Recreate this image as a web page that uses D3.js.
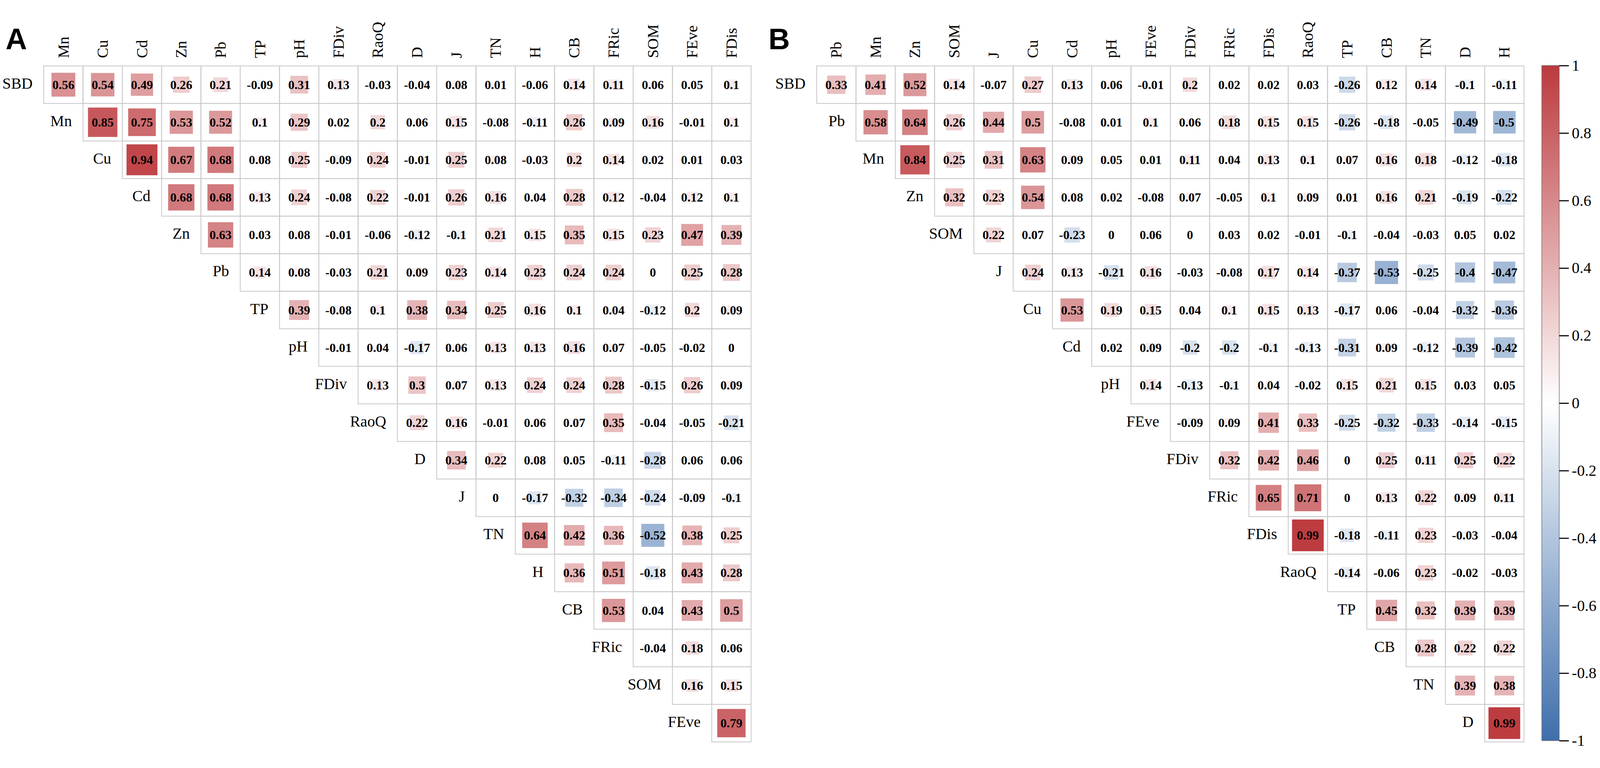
<!DOCTYPE html>
<html>
<head>
<meta charset="utf-8">
<script src="https://cdn.jsdelivr.net/npm/d3@7/dist/d3.min.js"></script>
<style>
  html, body { margin: 0; padding: 0; width: 100%; height: 100%; overflow: hidden; background: #fff; }
  #chart { width: 100vw; height: 100vh; }
  svg { display: block; }
</style>
</head>
<body>
<div id="chart"></div>
<script>
// ---- data: panel A ----
var rowsA = ["SBD", "Mn", "Cu", "Cd", "Zn", "Pb", "TP", "pH", "FDiv", "RaoQ", "D", "J", "TN", "H", "CB", "FRic", "SOM", "FEve"];
var colsA = ["Mn", "Cu", "Cd", "Zn", "Pb", "TP", "pH", "FDiv", "RaoQ", "D", "J", "TN", "H", "CB", "FRic", "SOM", "FEve", "FDis"];
// row i holds the values for columns i .. end
var valuesA = [
  [0.56, 0.54, 0.49, 0.26, 0.21, -0.09, 0.31, 0.13, -0.03, -0.04, 0.08, 0.01, -0.06, 0.14, 0.11, 0.06, 0.05, 0.1],
  [0.85, 0.75, 0.53, 0.52, 0.1, 0.29, 0.02, 0.2, 0.06, 0.15, -0.08, -0.11, 0.26, 0.09, 0.16, -0.01, 0.1],
  [0.94, 0.67, 0.68, 0.08, 0.25, -0.09, 0.24, -0.01, 0.25, 0.08, -0.03, 0.2, 0.14, 0.02, 0.01, 0.03],
  [0.68, 0.68, 0.13, 0.24, -0.08, 0.22, -0.01, 0.26, 0.16, 0.04, 0.28, 0.12, -0.04, 0.12, 0.1],
  [0.63, 0.03, 0.08, -0.01, -0.06, -0.12, -0.1, 0.21, 0.15, 0.35, 0.15, 0.23, 0.47, 0.39],
  [0.14, 0.08, -0.03, 0.21, 0.09, 0.23, 0.14, 0.23, 0.24, 0.24, 0, 0.25, 0.28],
  [0.39, -0.08, 0.1, 0.38, 0.34, 0.25, 0.16, 0.1, 0.04, -0.12, 0.2, 0.09],
  [-0.01, 0.04, -0.17, 0.06, 0.13, 0.13, 0.16, 0.07, -0.05, -0.02, 0],
  [0.13, 0.3, 0.07, 0.13, 0.24, 0.24, 0.28, -0.15, 0.26, 0.09],
  [0.22, 0.16, -0.01, 0.06, 0.07, 0.35, -0.04, -0.05, -0.21],
  [0.34, 0.22, 0.08, 0.05, -0.11, -0.28, 0.06, 0.06],
  [0, -0.17, -0.32, -0.34, -0.24, -0.09, -0.1],
  [0.64, 0.42, 0.36, -0.52, 0.38, 0.25],
  [0.36, 0.51, -0.18, 0.43, 0.28],
  [0.53, 0.04, 0.43, 0.5],
  [-0.04, 0.18, 0.06],
  [0.16, 0.15],
  [0.79]
];

// ---- data: panel B ----
var rowsB = ["SBD", "Pb", "Mn", "Zn", "SOM", "J", "Cu", "Cd", "pH", "FEve", "FDiv", "FRic", "FDis", "RaoQ", "TP", "CB", "TN", "D"];
var colsB = ["Pb", "Mn", "Zn", "SOM", "J", "Cu", "Cd", "pH", "FEve", "FDiv", "FRic", "FDis", "RaoQ", "TP", "CB", "TN", "D", "H"];
var valuesB = [
  [0.33, 0.41, 0.52, 0.14, -0.07, 0.27, 0.13, 0.06, -0.01, 0.2, 0.02, 0.02, 0.03, -0.26, 0.12, 0.14, -0.1, -0.11],
  [0.58, 0.64, 0.26, 0.44, 0.5, -0.08, 0.01, 0.1, 0.06, 0.18, 0.15, 0.15, -0.26, -0.18, -0.05, -0.49, -0.5],
  [0.84, 0.25, 0.31, 0.63, 0.09, 0.05, 0.01, 0.11, 0.04, 0.13, 0.1, 0.07, 0.16, 0.18, -0.12, -0.18],
  [0.32, 0.23, 0.54, 0.08, 0.02, -0.08, 0.07, -0.05, 0.1, 0.09, 0.01, 0.16, 0.21, -0.19, -0.22],
  [0.22, 0.07, -0.23, 0, 0.06, 0, 0.03, 0.02, -0.01, -0.1, -0.04, -0.03, 0.05, 0.02],
  [0.24, 0.13, -0.21, 0.16, -0.03, -0.08, 0.17, 0.14, -0.37, -0.53, -0.25, -0.4, -0.47],
  [0.53, 0.19, 0.15, 0.04, 0.1, 0.15, 0.13, -0.17, 0.06, -0.04, -0.32, -0.36],
  [0.02, 0.09, -0.2, -0.2, -0.1, -0.13, -0.31, 0.09, -0.12, -0.39, -0.42],
  [0.14, -0.13, -0.1, 0.04, -0.02, 0.15, 0.21, 0.15, 0.03, 0.05],
  [-0.09, 0.09, 0.41, 0.33, -0.25, -0.32, -0.33, -0.14, -0.15],
  [0.32, 0.42, 0.46, 0, 0.25, 0.11, 0.25, 0.22],
  [0.65, 0.71, 0, 0.13, 0.22, 0.09, 0.11],
  [0.99, -0.18, -0.11, 0.23, -0.03, -0.04],
  [-0.14, -0.06, 0.23, -0.02, -0.03],
  [0.45, 0.32, 0.39, 0.39],
  [0.28, 0.22, 0.22],
  [0.39, 0.38],
  [0.99]
];

var legendTicks = [1, 0.8, 0.6, 0.4, 0.2, 0, -0.2, -0.4, -0.6, -0.8, -1];

// ---- layout ----
var W = 4316, H = 1966;
var gridTop = 125, cellW = 106, cellH = 101.3;
var serif = "'Liberation Serif', 'Times New Roman', serif";

// fixed drawing coordinates, scaled to whatever the viewport is
var svg = d3.select("#chart")
  .append("svg")
  .attr("viewBox", "0 0 " + W + " " + H)
  .attr("preserveAspectRatio", "xMidYMid meet")
  .attr("width", "100%")
  .attr("height", "100%")
  .style("background", "#fff");

// shared colour and size scales
var color = d3.scaleLinear()
  .domain([-1, 0, 1])
  .range(["#3e6eac", "#ffffff", "#bc3a3e"]);

var side = d3.scaleSqrt()
  .domain([0, 1])
  .range([0, 86]);

function drawPanel(rows, cols, values, left, letter, letterX) {
  var x = d3.scaleBand().domain(cols).range([left, left + cols.length * cellW]);
  var y = d3.scaleBand().domain(rows).range([gridTop, gridTop + rows.length * cellH]);

  var cells = [];
  values.forEach(function (row, i) {
    row.forEach(function (v, k) {
      cells.push({ row: rows[i], col: cols[i + k], v: v });
    });
  });

  var g = svg.append("g");

  // grid
  g.append("g").selectAll("rect")
    .data(cells)
    .enter()
    .append("rect")
    .attr("x", function (d) { return x(d.col); })
    .attr("y", function (d) { return y(d.row); })
    .attr("width", x.bandwidth())
    .attr("height", y.bandwidth())
    .attr("fill", "none")
    .attr("stroke", "#c9c9c9")
    .attr("stroke-width", 2.2);

  // squares
  g.append("g").selectAll("rect")
    .data(cells)
    .enter()
    .append("rect")
    .attr("x", function (d) { return x(d.col) + x.bandwidth() / 2 - side(Math.abs(d.v)) / 2; })
    .attr("y", function (d) { return y(d.row) + y.bandwidth() / 2 - side(Math.abs(d.v)) / 2; })
    .attr("width", function (d) { return side(Math.abs(d.v)); })
    .attr("height", function (d) { return side(Math.abs(d.v)); })
    .attr("fill", function (d) { return color(d.v); });

  // coefficients
  g.append("g").selectAll("text")
    .data(cells)
    .enter()
    .append("text")
    .attr("x", function (d) { return x(d.col) + x.bandwidth() / 2; })
    .attr("y", function (d) { return y(d.row) + y.bandwidth() / 2 + 11.5; })
    .attr("text-anchor", "middle")
    .style("font-family", serif)
    .style("font-weight", "bold")
    .style("font-size", "34px")
    .attr("fill", "#000")
    .text(function (d) { return String(d.v); });

  // row labels, just left of each row's first cell
  g.append("g").selectAll("text")
    .data(rows)
    .enter()
    .append("text")
    .attr("x", function (d, i) { return x(cols[i]) - 30; })
    .attr("y", function (d) { return y(d) + y.bandwidth() / 2 + 10.5; })
    .attr("text-anchor", "end")
    .style("font-family", serif)
    .style("font-size", "42px")
    .attr("fill", "#000")
    .text(function (d) { return d; });

  // column labels, rotated
  g.append("g").selectAll("text")
    .data(cols)
    .enter()
    .append("text")
    .attr("transform", function (d) {
      return "translate(" + (x(d) + x.bandwidth() / 2 + 14) + "," + (gridTop - 21) + ") rotate(-90)";
    })
    .attr("text-anchor", "start")
    .style("font-family", serif)
    .style("font-size", "42px")
    .attr("fill", "#000")
    .text(function (d) { return d; });

  // panel letter
  svg.append("text")
    .attr("x", letterX)
    .attr("y", 80)
    .style("font-family", "'Liberation Sans', Arial, sans-serif")
    .style("font-weight", "bold")
    .style("font-size", "80px")
    .attr("fill", "#000")
    .text(letter);
}

drawPanel(rowsA, colsA, valuesA, 118, "A", 15);
drawPanel(rowsB, colsB, valuesB, 2203, "B", 2073);

// ---- colour bar ----
var barX = 4159, barW = 47, barTop = 124, barBottom = 1945;
var barScale = d3.scaleLinear().domain([-1, 1]).range([barBottom, barTop]);

var grad = svg.append("defs")
  .append("linearGradient")
  .attr("id", "cbar")
  .attr("x1", "0").attr("y1", "1")
  .attr("x2", "0").attr("y2", "0");
d3.range(-1, 1.001, 0.1).forEach(function (t) {
  grad.append("stop")
    .attr("offset", ((t + 1) / 2 * 100) + "%")
    .attr("stop-color", color(t));
});

svg.append("rect")
  .attr("x", barX)
  .attr("y", barTop)
  .attr("width", barW)
  .attr("height", barBottom - barTop)
  .attr("fill", "url(#cbar)")
  .attr("stroke", "#6b6b6b")
  .attr("stroke-width", 1.5);

var legendAxis = svg.append("g")
  .attr("transform", "translate(" + (barX + barW) + ",0)")
  .call(d3.axisRight(barScale)
    .tickValues(legendTicks)
    .tickSize(26)
    .tickPadding(8)
    .tickFormat(function (d) { return String(+d.toFixed(1)); }));

legendAxis.select(".domain").remove();
legendAxis.selectAll(".tick line")
  .attr("stroke", "#000")
  .attr("stroke-width", 3);
legendAxis.selectAll(".tick text")
  .style("font-family", serif)
  .style("font-size", "42px")
  .attr("fill", "#000");
</script>
</body>
</html>
